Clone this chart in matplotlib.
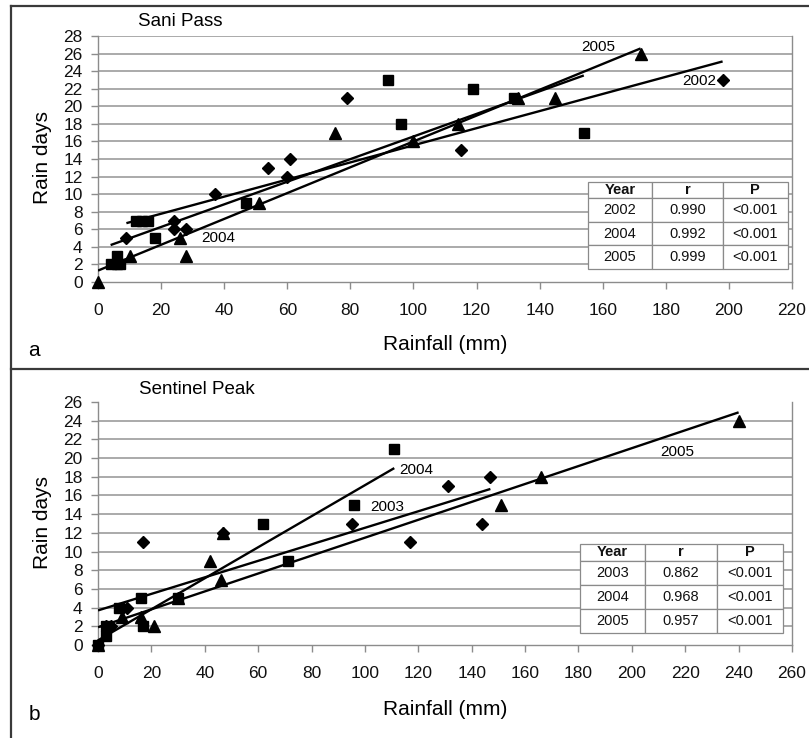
import matplotlib
matplotlib.use('Agg')
import matplotlib.pyplot as plt
from matplotlib.lines import Line2D
import numpy as np

plt.rcParams['font.family'] = ['Liberation Sans', 'DejaVu Sans']

# Sani Pass: rainfall (mm) vs rain days
sani_2002_x = [9, 24, 24, 28, 37, 54, 60, 61, 79, 115, 198]
sani_2002_y = [5, 7, 6, 6, 10, 13, 12, 14, 21, 15, 23]
sani_2004_x = [4, 6, 6, 7, 12, 14, 16, 18, 47, 92, 96, 119, 132, 154]
sani_2004_y = [2, 2, 3, 2, 7, 7, 7, 5, 9, 23, 18, 22, 21, 17]
sani_2005_x = [0, 10, 26, 28, 51, 75, 100, 114, 133, 145, 172]
sani_2005_y = [0, 3, 5, 3, 9, 17, 16, 18, 21, 21, 26]
# trendlines (slope, intercept) for 2002, 2004, 2005
sani_slope = [0.0974, 0.1287, 0.147]
sani_intercept = [5.82, 3.69, 1.3]

# Sentinel Peak
sent_2003_x = [0, 3, 5, 11, 17, 47, 95, 117, 131, 144, 147]
sent_2003_y = [0, 2, 2, 4, 11, 12, 13, 11, 17, 13, 18]
sent_2004_x = [0, 3, 3, 8, 16, 17, 30, 62, 71, 96, 111]
sent_2004_y = [0, 1, 2, 4, 5, 2, 5, 13, 9, 15, 21]
sent_2005_x = [0, 9, 16, 21, 30, 42, 46, 47, 151, 166, 240]
sent_2005_y = [0, 3, 3, 2, 5, 9, 7, 12, 15, 18, 24]
sent_slope = [0.0884, 0.166, 0.0958]
sent_intercept = [3.7, 0.5, 1.9]

# correlation tables
sani_years = ['2002', '2004', '2005']
sani_r = ['0.990', '0.992', '0.999']
sani_p = ['<0.001', '<0.001', '<0.001']
sent_years = ['2003', '2004', '2005']
sent_r = ['0.862', '0.968', '0.957']
sent_p = ['<0.001', '<0.001', '<0.001']

GRID = '#a4a4a4'
SPINE = '#8c8c8c'

fig = plt.figure(figsize=(8.09, 7.38), dpi=100)
W, H = 809, 738


def px_axes(l, t, r, b):
    return fig.add_axes([l / W, 1 - b / H, (r - l) / W, (b - t) / H])


def style_axes(ax, xmax, xstep, ymax, top_grid):
    ax.set_xlim(0, xmax)
    ax.set_ylim(0, ymax)
    ax.set_xticks(np.arange(0, xmax + 1, xstep))
    ax.set_yticks(np.arange(0, ymax + 1, 2))
    grid_levels = np.arange(2, ymax + 1 if top_grid else ymax, 2)
    for g in grid_levels:
        ax.axhline(g, color=GRID, lw=1.3, zorder=1)
    for s in ['top']:
        ax.spines[s].set_visible(False)
    for s in ['left', 'bottom', 'right']:
        ax.spines[s].set_color(SPINE)
        ax.spines[s].set_linewidth(1.0)
    ax.tick_params(axis='both', direction='out', length=5, width=1,
                   color=SPINE, labelsize=12.5, labelcolor='#111111')
    ax.tick_params(axis='y', pad=6)
    ax.tick_params(axis='x', pad=10)


def scatter_sets(ax, sets):
    for x, y, m, ms in sets:
        ax.plot(x, y, linestyle='none', marker=m, ms=ms, color='black',
                clip_on=False, zorder=4)


def trend(ax, xs, slope, intercept):
    x0, x1 = min(xs), max(xs)
    xx = np.array([x0, x1])
    ax.plot(xx, slope * xx + intercept, color='black', lw=1.7,
            solid_capstyle='butt', zorder=3)


def add_table(ax, years, rs, ps, bbox):
    rows = [['Year', 'r', 'P']] + [[y, r, p] for y, r, p in zip(years, rs, ps)]
    tb = ax.table(cellText=rows, cellLoc='center', bbox=bbox, zorder=6)
    tb.auto_set_font_size(False)
    tb.set_fontsize(10.5)
    widths = [0.32, 0.355, 0.325]
    for (i, j), cell in tb.get_celld().items():
        cell.set_width(widths[j])
        cell.set_height(0.7 if i == 0 else 1.0)
        cell.set_edgecolor('#8a8a8a')
        cell.set_linewidth(0.9)
        cell.set_facecolor('white')
        cell.get_text().set_color('#111111')
        if i == 0:
            cell.get_text().set_fontweight('bold')
    return tb


# ---- panel a: Sani Pass ----
ax1 = px_axes(98, 36, 792, 282)
style_axes(ax1, 220, 20, 28, top_grid=True)
for xs, s, c in zip([sani_2002_x, sani_2004_x, sani_2005_x], sani_slope, sani_intercept):
    trend(ax1, xs, s, c)
scatter_sets(ax1, [(sani_2002_x, sani_2002_y, 'D', 6),
                   (sani_2004_x, sani_2004_y, 's', 7),
                   (sani_2005_x, sani_2005_y, '^', 8)])
ax1.text(158.5, 26.7, '2005', fontsize=11, ha='center', va='center', zorder=5)
ax1.text(196, 22.9, '2002', fontsize=11, ha='right', va='center', zorder=5)
ax1.text(38, 5.0, '2004', fontsize=11, ha='center', va='center', zorder=5)
add_table(ax1, sani_years, sani_r, sani_p, [0.706, 0.053, 0.288, 0.354])
ax1.set_xlabel('Rainfall (mm)', fontsize=15)
ax1.xaxis.set_label_coords(0.5, -0.215)
ax1.set_ylabel('Rain days', fontsize=15)
ax1.yaxis.set_label_coords(-0.066, 0.505)

# ---- panel b: Sentinel Peak ----
ax2 = px_axes(98, 402, 792, 645)
style_axes(ax2, 260, 20, 26, top_grid=False)
for xs, s, c in zip([sent_2003_x, sent_2004_x, sent_2005_x], sent_slope, sent_intercept):
    trend(ax2, xs, s, c)
scatter_sets(ax2, [(sent_2003_x, sent_2003_y, 'D', 6),
                   (sent_2004_x, sent_2004_y, 's', 7),
                   (sent_2005_x, sent_2005_y, '^', 8)])
ax2.text(113, 18.7, '2004', fontsize=11, ha='left', va='center', zorder=5)
ax2.text(102, 14.8, '2003', fontsize=11, ha='left', va='center', zorder=5)
ax2.text(217, 20.6, '2005', fontsize=11, ha='center', va='center', zorder=5)
add_table(ax2, sent_years, sent_r, sent_p, [0.6945, 0.049, 0.2925, 0.367])
ax2.set_xlabel('Rainfall (mm)', fontsize=15)
ax2.xaxis.set_label_coords(0.5, -0.226)
ax2.set_ylabel('Rain days', fontsize=15)
ax2.yaxis.set_label_coords(-0.066, 0.506)

# panel titles and letters
fig.text(180 / W, 1 - 22 / H, 'Sani Pass', fontsize=13.5, ha='center', va='center')
fig.text(197 / W, 1 - 389 / H, 'Sentinel Peak', fontsize=13.5, ha='center', va='center')
fig.text(34 / W, 1 - 350 / H, 'a', fontsize=15, ha='center', va='center')
fig.text(34 / W, 1 - 715 / H, 'b', fontsize=15, ha='center', va='center')

# panel frames
frame = '#3a3a3a'
for xs, ys in [([11, W], [6, 6]), ([11, W], [369, 369]), ([11, 11], [6, H])]:
    fig.add_artist(Line2D([x / W for x in xs], [1 - y / H for y in ys],
                          color=frame, lw=1.6))

fig.savefig('out.png', dpi=100)
